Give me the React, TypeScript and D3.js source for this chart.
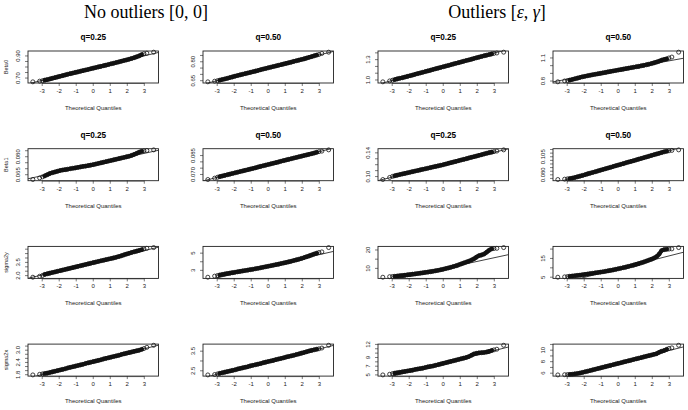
import React from "react";
import * as d3 from "d3";

// theoretical normal quantiles shared by every panel
const theoretical = [
  -3.55, -3.15, -2.98, -2.85, -2.7, -2.55, -2.4, -2.25, -2.1, -1.95, -1.8, -1.65, -1.5, -1.35, -1.2,
  -1.05, -0.9, -0.75, -0.6, -0.45, -0.3, -0.15, 0, 0.15, 0.3, 0.45, 0.6, 0.75, 0.9, 1.05, 1.2, 1.35,
  1.5, 1.65, 1.8, 1.95, 2.1, 2.25, 2.4, 2.55, 2.7, 2.85, 2.98, 3.15, 3.55,
];

// sample quantiles, row Beta0
const beta0Q25 = [
  0.666, 0.672, 0.676, 0.681, 0.686, 0.692, 0.698, 0.704, 0.71, 0.716, 0.722, 0.728, 0.734, 0.74, 0.745,
  0.751, 0.756, 0.762, 0.767, 0.773, 0.778, 0.784, 0.79, 0.795, 0.801, 0.806, 0.812, 0.817, 0.823, 0.829,
  0.834, 0.84, 0.846, 0.852, 0.858, 0.864, 0.87, 0.877, 0.884, 0.892, 0.901, 0.912, 0.92, 0.925, 0.934,
];
const beta0Q50 = [
  0.641, 0.646, 0.65, 0.654, 0.659, 0.664, 0.669, 0.675, 0.68, 0.686, 0.691, 0.696, 0.701, 0.706, 0.711,
  0.716, 0.721, 0.726, 0.731, 0.737, 0.742, 0.747, 0.752, 0.757, 0.762, 0.767, 0.772, 0.777, 0.782, 0.787,
  0.792, 0.797, 0.803, 0.808, 0.813, 0.818, 0.823, 0.829, 0.835, 0.841, 0.847, 0.853, 0.858, 0.866, 0.876,
];
const beta0OutQ25 = [
  0.973, 0.986, 0.997, 1.006, 1.016, 1.025, 1.033, 1.043, 1.053, 1.063, 1.073, 1.084, 1.094, 1.104, 1.114,
  1.124, 1.134, 1.144, 1.155, 1.165, 1.175, 1.185, 1.195, 1.205, 1.215, 1.225, 1.236, 1.246, 1.256, 1.266,
  1.276, 1.286, 1.296, 1.306, 1.317, 1.327, 1.337, 1.347, 1.357, 1.366, 1.375, 1.385, 1.392, 1.398, 1.41,
];
const beta0OutQ50 = [
  0.79, 0.801, 0.806, 0.812, 0.82, 0.829, 0.838, 0.847, 0.855, 0.862, 0.869, 0.876, 0.882, 0.888, 0.894,
  0.9, 0.906, 0.912, 0.919, 0.925, 0.931, 0.937, 0.943, 0.949, 0.955, 0.961, 0.967, 0.973, 0.979, 0.985,
  0.991, 0.998, 1.004, 1.011, 1.019, 1.027, 1.036, 1.046, 1.058, 1.071, 1.08, 1.088, 1.1, 1.112, 1.175,
];

// row Beta1
const beta1Q25 = [
  0.061, 0.0623, 0.0632, 0.064, 0.065, 0.066, 0.0667, 0.0673, 0.0679, 0.0685, 0.0689, 0.0692, 0.0696, 0.07,
  0.0704, 0.0707, 0.0711, 0.0715, 0.0719, 0.0722, 0.0726, 0.073, 0.0734, 0.0739, 0.0744, 0.0749, 0.0754,
  0.0759, 0.0764, 0.0769, 0.0774, 0.0779, 0.0784, 0.0789, 0.0794, 0.0799, 0.0804, 0.0811, 0.0819, 0.0828,
  0.0838, 0.0845, 0.0849, 0.0852, 0.0857,
];
const beta1Q50 = [
  0.066, 0.0671, 0.0678, 0.0683, 0.0688, 0.0693, 0.0698, 0.0703, 0.0708, 0.0713, 0.0718, 0.0723, 0.0728,
  0.0733, 0.0738, 0.0743, 0.0748, 0.0753, 0.0759, 0.0764, 0.0769, 0.0774, 0.0779, 0.0784, 0.0789, 0.0794,
  0.0799, 0.0805, 0.081, 0.0815, 0.082, 0.0825, 0.083, 0.0835, 0.084, 0.0845, 0.085, 0.0855, 0.086, 0.0865,
  0.087, 0.0876, 0.0881, 0.0885, 0.0895,
];
const beta1OutQ25 = [
  0.095, 0.0985, 0.1003, 0.1013, 0.1024, 0.1034, 0.1044, 0.1054, 0.1063, 0.1073, 0.1083, 0.1093, 0.1102,
  0.1112, 0.1122, 0.1132, 0.1141, 0.1151, 0.1161, 0.1171, 0.118, 0.119, 0.12, 0.1211, 0.1223, 0.1234,
  0.1245, 0.1256, 0.1268, 0.1279, 0.129, 0.1301, 0.1313, 0.1324, 0.1335, 0.1346, 0.1358, 0.1369, 0.1381,
  0.1392, 0.1403, 0.1412, 0.142, 0.143, 0.145,
];
const beta1OutQ50 = [
  0.0735, 0.074, 0.0744, 0.0748, 0.0754, 0.0762, 0.0772, 0.0782, 0.0792, 0.0802, 0.0813, 0.0823, 0.0833,
  0.0843, 0.0853, 0.0864, 0.0874, 0.0884, 0.0894, 0.0904, 0.0915, 0.0925, 0.0935, 0.0945, 0.0955, 0.0966,
  0.0976, 0.0986, 0.0996, 0.1006, 0.1017, 0.1027, 0.1037, 0.1047, 0.1057, 0.1068, 0.1078, 0.1088, 0.1098,
  0.1108, 0.1118, 0.1126, 0.1132, 0.1138, 0.1145,
];

// row sigma2y
const sigma2yQ25 = [
  1.82, 1.93, 2.02, 2.14, 2.21, 2.28, 2.35, 2.42, 2.49, 2.56, 2.63, 2.7, 2.77, 2.84, 2.91, 2.98, 3.05,
  3.12, 3.19, 3.26, 3.33, 3.4, 3.47, 3.54, 3.61, 3.68, 3.74, 3.81, 3.88, 3.94, 4.01, 4.08, 4.16, 4.25,
  4.35, 4.44, 4.53, 4.62, 4.7, 4.78, 4.86, 4.94, 5.02, 5.1, 5.18,
];
const sigma2yQ50 = [
  2.2, 2.33, 2.4, 2.46, 2.52, 2.58, 2.63, 2.68, 2.73, 2.78, 2.83, 2.88, 2.93, 2.98, 3.03, 3.08, 3.13,
  3.19, 3.24, 3.3, 3.36, 3.42, 3.48, 3.54, 3.6, 3.66, 3.72, 3.79, 3.85, 3.92, 3.99, 4.06, 4.14, 4.22,
  4.3, 4.39, 4.48, 4.58, 4.68, 4.79, 4.9, 5.0, 5.08, 5.15, 5.65,
];
const sigma2yOutQ25 = [
  5.2, 5.5, 5.6, 5.7, 5.85, 6.0, 6.15, 6.3, 6.5, 6.65, 6.85, 7.0, 7.2, 7.4, 7.6, 7.8, 8.0, 8.2, 8.45,
  8.7, 8.95, 9.25, 9.55, 9.9, 10.25, 10.6, 11.0, 11.4, 11.9, 12.4, 12.9, 13.4, 13.9, 14.5, 15.2, 16.1,
  16.9, 17.3, 17.8, 18.8, 19.9, 20.6, 20.8, 20.9, 21.3,
];
const sigma2yOutQ50 = [
  5.0, 5.2, 5.35, 5.5, 5.65, 5.8, 5.95, 6.1, 6.3, 6.5, 6.7, 6.9, 7.1, 7.3, 7.5, 7.7, 7.9, 8.15, 8.4,
  8.65, 8.9, 9.2, 9.5, 9.8, 10.1, 10.4, 10.75, 11.1, 11.45, 11.85, 12.25, 12.65, 13.1, 13.6, 14.1, 14.6,
  15.2, 16.0, 17.3, 19.2, 19.7, 19.9, 20.0, 20.1, 20.8,
];

// row sigma2x
const sigma2xQ25 = [
  1.79, 1.82, 1.84, 1.86, 1.88, 1.91, 1.94, 1.97, 2.0, 2.03, 2.06, 2.09, 2.13, 2.16, 2.19, 2.22, 2.25,
  2.28, 2.31, 2.35, 2.38, 2.41, 2.44, 2.47, 2.5, 2.53, 2.57, 2.6, 2.63, 2.66, 2.69, 2.72, 2.75, 2.79,
  2.82, 2.85, 2.88, 2.91, 2.94, 2.97, 3.0, 3.04, 3.08, 3.14, 3.24,
];
const sigma2xQ50 = [
  2.29, 2.31, 2.34, 2.37, 2.4, 2.43, 2.46, 2.49, 2.52, 2.55, 2.59, 2.62, 2.65, 2.68, 2.71, 2.75, 2.78,
  2.81, 2.84, 2.87, 2.91, 2.94, 2.97, 3.0, 3.03, 3.07, 3.1, 3.13, 3.16, 3.2, 3.23, 3.26, 3.29, 3.33,
  3.36, 3.4, 3.43, 3.47, 3.51, 3.54, 3.57, 3.6, 3.62, 3.66, 3.8,
];
const sigma2xOutQ25 = [
  5.0, 5.15, 5.3, 5.4, 5.5, 5.6, 5.7, 5.8, 5.9, 6.0, 6.1, 6.25, 6.35, 6.45, 6.55, 6.7, 6.85, 6.95, 7.05,
  7.2, 7.35, 7.5, 7.65, 7.8, 7.95, 8.1, 8.25, 8.4, 8.55, 8.7, 8.85, 9.0, 9.2, 9.5, 9.8, 9.95, 10.05,
  10.1, 10.15, 10.25, 10.4, 10.6, 10.75, 10.9, 11.8,
];
const sigma2xOutQ50 = [
  5.7, 5.74, 5.76, 5.78, 5.82, 5.88, 5.95, 6.03, 6.13, 6.24, 6.35, 6.46, 6.58, 6.69, 6.8, 6.91, 7.03,
  7.14, 7.25, 7.36, 7.48, 7.59, 7.7, 7.81, 7.93, 8.04, 8.15, 8.26, 8.38, 8.49, 8.6, 8.71, 8.83, 8.94,
  9.05, 9.16, 9.28, 9.39, 9.62, 9.8, 9.95, 10.15, 10.3, 10.4, 10.85,
];

const headers = ["No outliers [0, 0]", "Outliers"];
const rowLabels = ["Beta0", "Beta1", "sigma2y", "sigma2x"];
const colTitles = ["q=0.25", "q=0.50", "q=0.25", "q=0.50"];
const xTicks = [-3, -2, -1, 0, 1, 2, 3];

const samples = [
  [beta0Q25, beta0Q50, beta0OutQ25, beta0OutQ50],
  [beta1Q25, beta1Q50, beta1OutQ25, beta1OutQ50],
  [sigma2yQ25, sigma2yQ50, sigma2yOutQ25, sigma2yOutQ50],
  [sigma2xQ25, sigma2xQ50, sigma2xOutQ25, sigma2xOutQ50],
];

const yTicks = [
  [[0.7, 0.75, 0.8, 0.85, 0.9], [0.65, 0.7, 0.75, 0.8, 0.85], [1.0, 1.1, 1.2, 1.3, 1.4], [0.8, 0.9, 1.0, 1.1]],
  [
    [0.065, 0.07, 0.075, 0.08, 0.085],
    [0.07, 0.075, 0.08, 0.085],
    [0.1, 0.11, 0.12, 0.13, 0.14],
    [0.075, 0.08, 0.085, 0.09, 0.095, 0.1, 0.105, 0.11, 0.115],
  ],
  [[2.0, 2.5, 3.0, 3.5, 4.0, 4.5, 5.0], [3, 4, 5], [10, 15, 20], [5, 10, 15, 20]],
  [[1.8, 2.0, 2.2, 2.4, 2.6, 2.8, 3.0, 3.2], [2.5, 3.0, 3.5], [5, 6, 7, 8, 9, 10, 11, 12], [6, 7, 8, 9, 10, 11]],
];

const yTickLabels = [
  [["0.70", "0.90"], ["0.65", "0.80"], ["1.0", "1.3"], ["0.8", "1.1"]],
  [["0.065", "0.080"], ["0.070", "0.085"], ["0.10", "0.14"], ["0.080", "0.105"]],
  [["2.0", "3.5"], ["3", "5"], ["10", "20"], ["5", "15"]],
  [["1.8", "2.4", "3.0"], ["2.5", "3.5"], ["5", "7", "9", "12"], ["6", "8", "10"]],
];

// qqline intercept / slope per panel
const lineIntercepts = [
  [0.79, 0.752, 1.195, 0.943],
  [0.0735, 0.0779, 0.12, 0.0935],
  [3.46, 3.48, 9.8, 9.5],
  [2.44, 2.97, 7.65, 7.7],
];
const lineSlopes = [
  [0.037, 0.034, 0.0675, 0.04],
  [0.0031, 0.0034, 0.007, 0.0066],
  [0.46, 0.45, 2.0, 2.3],
  [0.21, 0.215, 0.98, 0.75],
];

const sans = "'Liberation Sans', Arial, Helvetica, sans-serif";
const boxW = 130.5;
const boxH = 32;

function Panel({ row, col }: { row: number; col: number }) {
  const left = 28 + col * 175;
  const top = 51 + row * 97.7;
  const values = samples[row][col];

  const [zMin, zMax] = d3.extent(theoretical) as [number, number];
  const zPad = (zMax - zMin) * 0.04;
  const x = d3.scaleLinear().domain([zMin - zPad, zMax + zPad]).range([left, left + boxW]);

  const [vMin, vMax] = d3.extent(values) as [number, number];
  const vPad = (vMax - vMin) * 0.04;
  const y = d3.scaleLinear().domain([vMin - vPad, vMax + vPad]).range([top + boxH, top]);

  const [d0, d1] = x.domain();
  const a = lineIntercepts[row][col];
  const b = lineSlopes[row][col];
  const clipId = `clip-${row}-${col}`;
  const ticks = yTicks[row][col].filter((t) => t >= y.domain()[0] && t <= y.domain()[1]);

  // the dense middle of the sample overlaps into a solid band of circles
  const pts = theoretical.map((z, i) => [x(z), y(values[i])] as [number, number]);
  const band = d3.line().curve(d3.curveMonotoneX)(pts.slice(3, 42));

  return (
    <g>
      <clipPath id={clipId}>
        <rect x={left} y={top} width={boxW} height={boxH} />
      </clipPath>
      {row < 2 && (
        <text x={left + boxW / 2} y={top - 11} textAnchor="middle" fontSize={8.2} fontWeight="bold" fontFamily={sans}>
          {colTitles[col]}
        </text>
      )}
      <g clipPath={`url(#${clipId})`}>
        <line x1={x(d0)} y1={y(a + b * d0)} x2={x(d1)} y2={y(a + b * d1)} stroke="#111" strokeWidth={0.8} />
      </g>
      <path d={band ?? ""} fill="none" stroke="#111" strokeWidth={4.2} strokeLinecap="round" />
      {pts.map(([cx, cy], i) => (
        <circle key={i} cx={cx} cy={cy} r={2} fill="none" stroke="#111" strokeWidth={0.8} />
      ))}
      <rect x={left} y={top} width={boxW} height={boxH} fill="none" stroke="#222" strokeWidth={0.9} />
      {/* x axis */}
      <line x1={x(-3)} x2={x(3)} y1={top + boxH + 0.5} y2={top + boxH + 0.5} stroke="#222" strokeWidth={0.6} />
      {xTicks.map((t) => (
        <g key={t}>
          <line x1={x(t)} x2={x(t)} y1={top + boxH} y2={top + boxH + 3} stroke="#222" strokeWidth={0.6} />
          <text x={x(t)} y={top + boxH + 10} textAnchor="middle" fontSize={6} fontFamily={sans} fill="#222">
            {t}
          </text>
        </g>
      ))}
      <text x={left + boxW / 2} y={top + boxH + 27} textAnchor="middle" fontSize={6} fontFamily={sans} fill="#222">
        Theoretical Quantiles
      </text>
      {/* y axis */}
      {ticks.map((t) => (
        <line key={t} x1={left - 3} x2={left} y1={y(t)} y2={y(t)} stroke="#222" strokeWidth={0.6} />
      ))}
      {yTickLabels[row][col].map((s) => (
        <text
          key={s}
          transform={`translate(${left - 8},${y(+s)}) rotate(-90)`}
          textAnchor="middle"
          fontSize={6}
          fontFamily={sans}
          fill="#222"
        >
          {s}
        </text>
      ))}
      {col === 0 && (
        <text
          transform={`translate(8,${top + boxH / 2}) rotate(-90)`}
          textAnchor="middle"
          fontSize={5.5}
          fontFamily={sans}
          fill="#222"
        >
          {rowLabels[row]}
        </text>
      )}
    </g>
  );
}

export default function App() {
  const serif = "'Liberation Serif', 'DejaVu Serif', serif";
  return (
    <svg
      width={688}
      height={410}
      style={{ position: "absolute", left: 0, top: 0, background: "#fff" }}
    >
      <text x={146} y={18} textAnchor="middle" fontSize={18} fontFamily={serif}>
        {headers[0]}
      </text>
      <text x={497} y={18} textAnchor="middle" fontSize={18} fontFamily={serif}>
        {headers[1]} [<tspan fontStyle="italic">ε</tspan>, <tspan fontStyle="italic">γ</tspan>]
      </text>
      {rowLabels.map((_, row) =>
        colTitles.map((_, col) => <Panel key={`${row}-${col}`} row={row} col={col} />)
      )}
    </svg>
  );
}
